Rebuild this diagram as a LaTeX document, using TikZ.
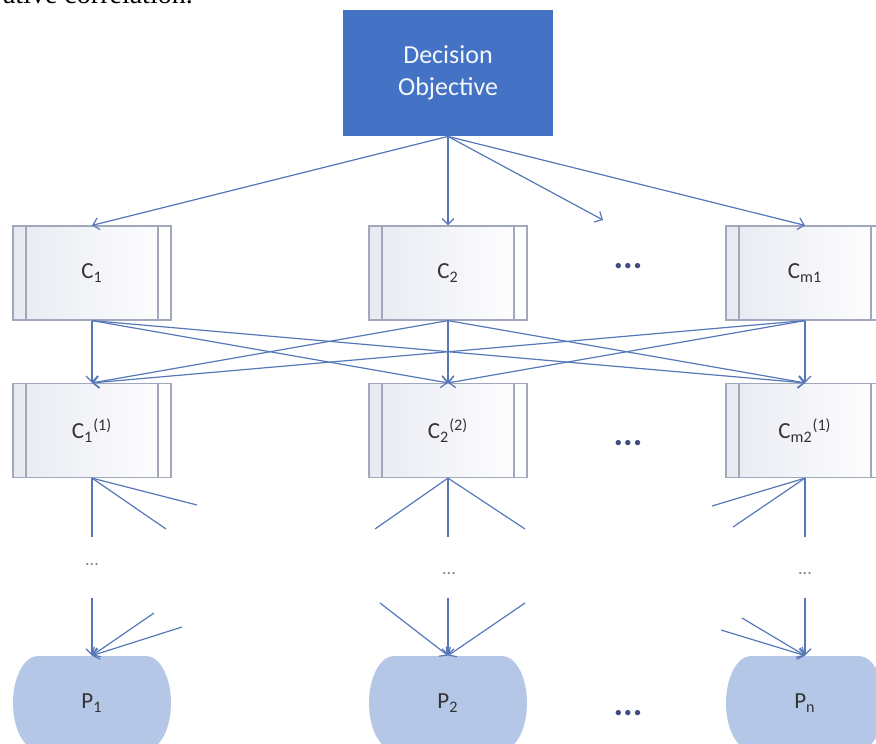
\documentclass[tikz,border=0pt]{standalone}
\usepackage{fontspec}
\setmainfont{Carlito}
\newfontfamily\serifpart{Liberation Serif}
\usetikzlibrary{arrows.meta}
\definecolor{objblue}{HTML}{4472C4}
\definecolor{linkblue}{HTML}{5677B8}
\definecolor{boxline}{HTML}{A2A8BC}
\definecolor{boxtint}{HTML}{E8EAF2}
\definecolor{pblue}{HTML}{B4C7E7}
\definecolor{dotblue}{HTML}{3F4E7E}
\definecolor{labelgray}{HTML}{333333}
\tikzset{
  link/.style={linkblue,line width=0.6pt},
  cbox/.style={rectangle,draw=boxline,line width=0.6pt,left color=boxtint,right color=white,
    minimum width=79pt,minimum height=47pt,inner sep=0pt,text=labelgray,
    font=\fontsize{11.5}{13}\selectfont,
    path picture={\draw[boxline,line width=0.6pt]
      ([xshift=6.5pt]path picture bounding box.north west)--([xshift=6.5pt]path picture bounding box.south west)
      ([xshift=-6.5pt]path picture bounding box.north east)--([xshift=-6.5pt]path picture bounding box.south east);}},
  pbox/.style={rectangle,fill=white,minimum width=79pt,minimum height=47pt,inner sep=0pt,text=labelgray,
    font=\fontsize{11.5}{13}\selectfont,
    path picture={\fill[pblue] ([xshift=12.5pt]path picture bounding box.north west)
      --([xshift=-12.5pt]path picture bounding box.north east)
      arc[start angle=90,end angle=-90,x radius=12.5pt,y radius=23.5pt]
      --([xshift=12.5pt]path picture bounding box.south west)
      arc[start angle=270,end angle=90,x radius=12.5pt,y radius=23.5pt]--cycle;}},
  bigdots/.style={text=dotblue,font=\bfseries\fontsize{18}{18}\selectfont},
  smalldots/.style={text=gray,font=\fontsize{9}{9}\selectfont}
}
\begin{document}
\begin{tikzpicture}[x=0.5pt,y=0.5pt,>={Straight Barb[length=3pt,width=6pt]}]
\useasboundingbox (0,0) rectangle (876,-743);
\node[anchor=base west,font=\serifpart\fontsize{14}{14}\selectfont] (frag) at (-4,-4) {ative correlation.};
% goal
\node[rectangle,fill=objblue,text=white!94!objblue,align=center,minimum width=105pt,minimum height=63pt,
  font=\fontsize{13}{16}\selectfont] (obj) at (448,-73) {Decision\\Objective};
% first level criteria
\node[cbox] (c1) at (92,-273) {C\textsubscript{1}};
\node[cbox] (c2) at (448,-273) {C\textsubscript{2}};
\node[cbox] (cm) at (805,-273) {C\textsubscript{m1}};
\node[bigdots] (dotsa) at (628,-266) {...};
\coordinate (cdots) at (603,-220);
% second level criteria
\node[cbox] (c1a) at (92,-430.5) {C\textsubscript{1}\textsuperscript{(1)}};
\node[cbox] (c2a) at (448,-430.5) {C\textsubscript{2}\textsuperscript{(2)}};
\node[cbox] (cma) at (805,-430.5) {C\textsubscript{m2}\textsuperscript{(1)}};
\node[bigdots] (dotsb) at (628,-443) {...};
% alternatives
\node[pbox] (p1) at (92,-703) {P\textsubscript{1}};
\node[pbox] (p2) at (448,-703) {P\textsubscript{2}};
\node[pbox] (pn) at (805,-703) {P\textsubscript{n}};
\node[bigdots] (dotsc) at (628,-713) {...};
\node[smalldots] (sd1) at (92,-565) {...};
\node[smalldots] (sd2) at (449,-574) {...};
\node[smalldots] (sd3) at (805,-574) {...};
% links
\foreach \t in {c1,c2,cm} \draw[link,->] (obj.south)--(\t.north);
\draw[link,->] (obj.south)--(cdots);
\foreach \s in {c1,c2,cm} \foreach \t in {c1a,c2a,cma} \draw[link,->] (\s.south)--(\t.north);
% loose ends below the second level
\foreach \n/\x/\y in {a1/92/537,a2/197/505,a3/166/529,b1/448/537,b2/375/529,b3/525/529,
  m1/805/537,m2/712/506,m3/733/527} \coordinate (\n) at (\x,-\y);
\foreach \n/\x/\y in {q1/92/598,q2/154/613,q3/182/627,r1/448/598,r2/380/603,r3/525/603,
  s1/805/598,s2/721/630,s3/742/618} \coordinate (\n) at (\x,-\y);
\foreach \e in {a1,a2,a3} \draw[link] (c1a.south)--(\e);
\foreach \e in {b1,b2,b3} \draw[link] (c2a.south)--(\e);
\foreach \e in {m1,m2,m3} \draw[link] (cma.south)--(\e);
\foreach \e in {q1,q2,q3} \draw[link,->] (\e)--(p1.north);
\foreach \e in {r1,r2,r3} \draw[link,->] (\e)--(p2.north);
\foreach \e in {s1,s2,s3} \draw[link,->] (\e)--(pn.north);
\end{tikzpicture}
\end{document}
